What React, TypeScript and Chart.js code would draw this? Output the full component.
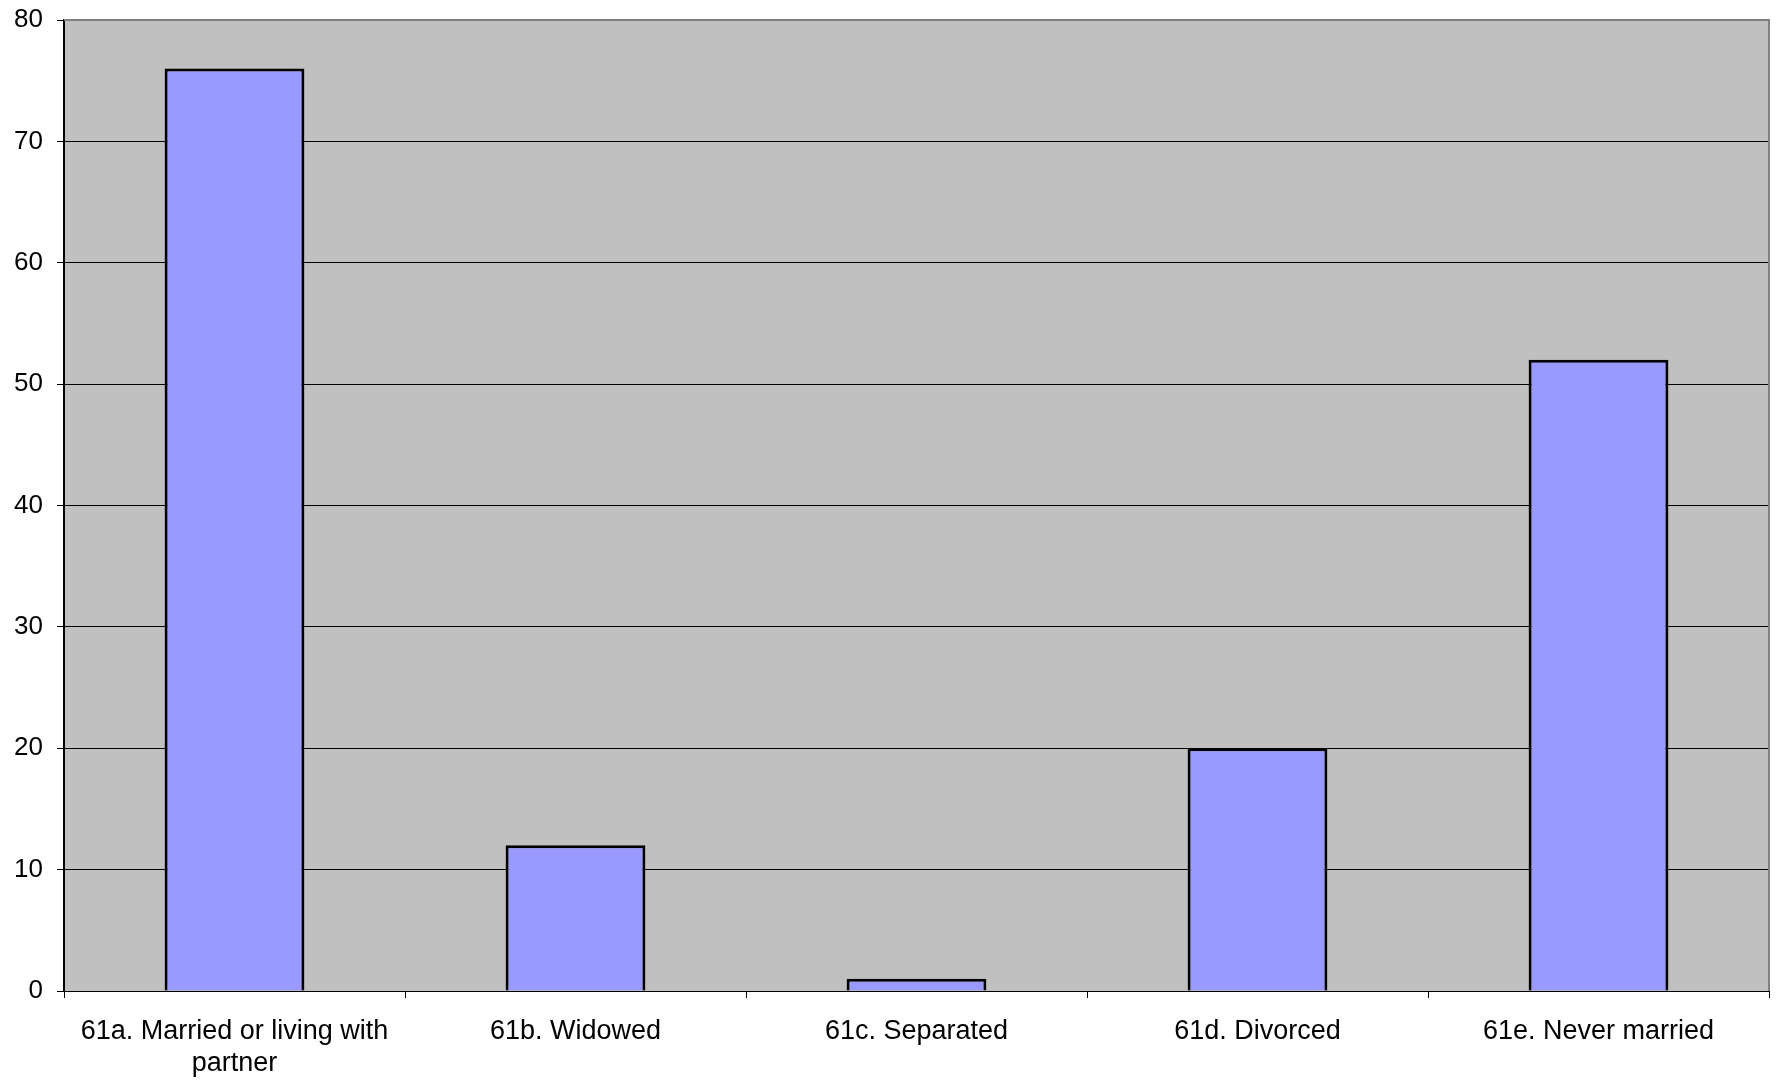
import React, { useEffect, useRef } from "react";
import { Chart, registerables } from "chart.js";

Chart.register(...registerables);

const categories: (string | string[])[] = [
  ["61a. Married or living with", "partner"],
  "61b. Widowed",
  "61c. Separated",
  "61d. Divorced",
  "61e. Never married",
];
const counts: number[] = [76, 12, 1, 20, 52];
const yTicks: number[] = [0, 10, 20, 30, 40, 50, 60, 70, 80];

const plotStyle = {
  id: "plotStyle",
  beforeDraw(chart: any) {
    const { ctx, chartArea } = chart;
    ctx.save();
    ctx.fillStyle = "#C0C0C0";
    ctx.fillRect(chartArea.left, chartArea.top, chartArea.right - chartArea.left, chartArea.bottom - chartArea.top);
    ctx.restore();
  },
  afterDraw(chart: any) {
    const { ctx, chartArea } = chart;
    ctx.save();
    ctx.strokeStyle = "#808080";
    ctx.lineWidth = 2;
    ctx.beginPath();
    ctx.moveTo(chartArea.left, chartArea.top);
    ctx.lineTo(chartArea.right, chartArea.top);
    ctx.lineTo(chartArea.right, chartArea.bottom);
    ctx.stroke();
    ctx.restore();
  },
};

export default function App() {
  const ref = useRef<HTMLCanvasElement | null>(null);
  useEffect(() => {
    if (!ref.current) return;
    const chart = new Chart(ref.current, {
      type: "bar",
      data: {
        labels: categories,
        datasets: [
          {
            data: counts,
            backgroundColor: "#9999FF",
            borderColor: "#000000",
            borderWidth: 3,
            borderSkipped: "bottom",
            categoryPercentage: 0.41,
            barPercentage: 1.0,
          },
        ],
      },
      options: {
        animation: false,
        responsive: false,
        maintainAspectRatio: false,
        layout: { padding: { top: 20, right: 7, left: 0, bottom: 0 } },
        plugins: {
          legend: { display: false },
          tooltip: { enabled: false },
          title: { display: false },
        },
        scales: {
          x: {
            grid: {
              display: true,
              drawOnChartArea: false,
              drawTicks: true,
              tickLength: 7,
              color: "#000000",
              offset: true,
            },
            border: { display: true, color: "#000000", width: 1 },
            ticks: {
              color: "#000000",
              font: { family: "'Liberation Sans', Arial, sans-serif", size: 27 },
              padding: 17,
              maxRotation: 0,
              minRotation: 0,
              autoSkip: false,
            },
            afterFit(scale: any) {
              scale.height = 89;
              scale.paddingLeft = 0;
              scale.paddingRight = 0;
            },
          },
          y: {
            min: 0,
            max: 80,
            afterBuildTicks(scale: any) {
              scale.ticks = yTicks.map((v) => ({ value: v }));
            },
            grid: {
              display: true,
              drawOnChartArea: true,
              drawTicks: true,
              tickLength: 7,
              color: "#000000",
              lineWidth: 1,
            },
            border: { display: true, color: "#000000", width: 2 },
            ticks: {
              color: "#000000",
              font: { family: "'Liberation Sans', Arial, sans-serif", size: 26 },
              padding: 14,
            },
            afterFit(scale: any) {
              scale.width = 64;
              scale.paddingTop = 0;
              scale.paddingBottom = 0;
            },
          },
        },
      },
      plugins: [plotStyle],
    });
    return () => chart.destroy();
  }, []);
  return (
    <div style={{ position: "absolute", left: 0, top: 0, width: 1776, height: 1080, background: "#FFFFFF" }}>
      <canvas ref={ref} width={1776} height={1080} style={{ display: "block", width: 1776, height: 1080 }} />
    </div>
  );
}
